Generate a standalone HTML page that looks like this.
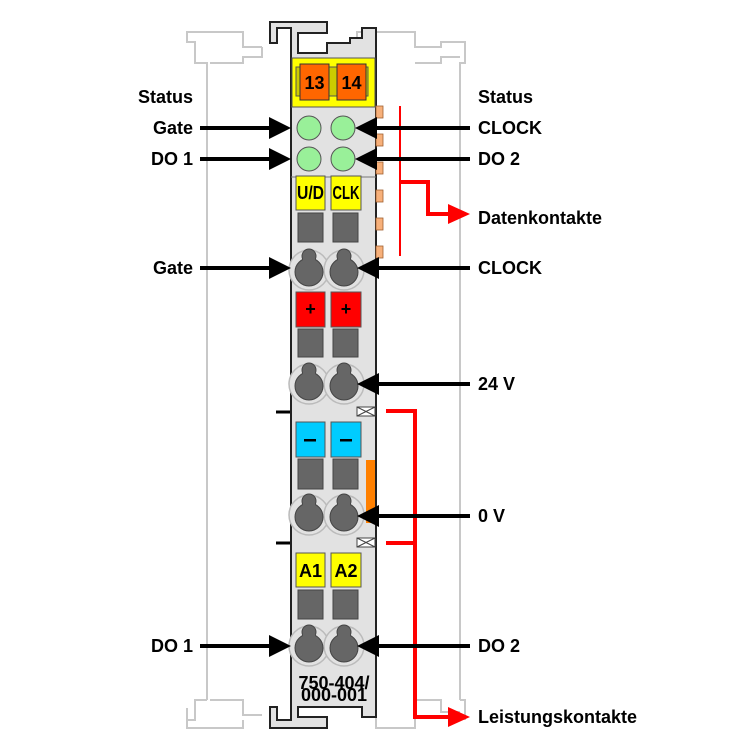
<!DOCTYPE html>
<html><head><meta charset="utf-8"><style>
html,body{margin:0;padding:0;background:#fff}
svg{display:block}
text{font-family:"Liberation Sans",sans-serif;font-weight:bold;font-size:18px;fill:#000}
</style></head><body>
<svg width="750" height="750" viewBox="0 0 750 750" xmlns="http://www.w3.org/2000/svg">
<!-- rails -->
<g fill="none" stroke="#c8c8c8" stroke-width="2">
<path d="M207,700 V63 H195 V42 H187 V32 H243 V47 H262"/>
<path d="M195,63 V42 M210,63 H243 V57 H262 V47"/>
<path d="M460,700 V63 H465 V42 H441 V47 H415 V32 H357 V42 H376"/>
<path d="M415,63 H441 V57 H460"/>
<path d="M207,700 H195 V720 H187 M210,700 H243 V715 H262"/>
<path d="M460,700 H465 V720 M415,700 H441 V712 H460 M376,712 V728 H415 V712"/>
<path d="M187,708 V728 H243 V720"/>
</g>
<!-- module body -->
<path d="M270,22 H327 V33 H298 V53 H327 V43 H350 V38 H362 V28 H376 V717 H362 V707 H298 V717 H327 V728 H270 V707 H277 V720 H291 V28 H277 V43 H270 Z" fill="#e2e2e2" stroke="#222" stroke-width="2"/>
<rect x="292" y="58" width="83" height="49" fill="#ffff00" stroke="#555" stroke-width="1"/>
<rect x="296" y="67" width="72" height="29" fill="#cccc00" stroke="#555" stroke-width="1"/>
<rect x="300" y="64" width="29" height="36" fill="#ff6600" stroke="#333"/>
<rect x="337" y="64" width="29" height="36" fill="#ff6600" stroke="#333"/>
<text x="314.5" y="89" text-anchor="middle" font-size="17">13</text>
<text x="351.5" y="89" text-anchor="middle" font-size="17">14</text>
<line x1="291" y1="107" x2="376" y2="107" stroke="#555"/>
<!-- orange tabs -->
<g fill="#f7b07a" stroke="#a06030" stroke-width="0.8">
<rect x="376" y="106" width="7" height="12"/><rect x="376" y="134" width="7" height="12"/>
<rect x="376" y="162" width="7" height="12"/><rect x="376" y="190" width="7" height="12"/>
<rect x="376" y="218" width="7" height="12"/><rect x="376" y="246" width="7" height="12"/>
</g>
<!-- LEDs -->
<g fill="#99f099" stroke="#555" stroke-width="1">
<circle cx="309" cy="128" r="12"/><circle cx="343" cy="128" r="12"/>
<circle cx="309" cy="159" r="12"/><circle cx="343" cy="159" r="12"/>
</g>
<line x1="291" y1="177" x2="376" y2="177" stroke="#777"/>
<rect x="296" y="176" width="29" height="34" fill="#ffff00" stroke="#555"/>
<rect x="331" y="176" width="30" height="34" fill="#ffff00" stroke="#555"/>
<text x="310.5" y="199" text-anchor="middle" font-size="15" textLength="27" lengthAdjust="spacingAndGlyphs">U/D</text>
<text x="346" y="199" text-anchor="middle" font-size="15" textLength="27" lengthAdjust="spacingAndGlyphs">CLK</text>
<g fill="#666" stroke="#444">
<rect x="298" y="213" width="25" height="29"/><rect x="333" y="213" width="25" height="29"/>
<rect x="298" y="329" width="25" height="28"/><rect x="333" y="329" width="25" height="28"/>
<rect x="298" y="459" width="25" height="30"/><rect x="333" y="459" width="25" height="30"/>
<rect x="298" y="590" width="25" height="29"/><rect x="333" y="590" width="25" height="29"/>
</g>
<!-- clamps -->
<g id="cl">
<circle cx="309" cy="270" r="20" fill="#e2e2e2" stroke="#bbb" stroke-width="1.5"/>
<circle cx="344" cy="270" r="20" fill="#e2e2e2" stroke="#bbb" stroke-width="1.5"/>
<g fill="#666" stroke="#444"><circle cx="309" cy="272" r="14"/><circle cx="309" cy="256" r="7"/><circle cx="344" cy="272" r="14"/><circle cx="344" cy="256" r="7"/></g>
<g fill="#666"><rect x="303" y="256" width="12" height="10"/><rect x="338" y="256" width="12" height="10"/></g>
</g>
<use href="#cl" y="114"/><use href="#cl" y="245"/><use href="#cl" y="376"/>
<rect x="296" y="292" width="29" height="35" fill="#ff0000" stroke="#555"/>
<rect x="331" y="292" width="30" height="35" fill="#ff0000" stroke="#555"/>
<text x="310.5" y="315" text-anchor="middle" font-size="15">+</text>
<text x="346" y="315" text-anchor="middle" font-size="15">+</text>
<rect x="296" y="422" width="29" height="35" fill="#00ccff" stroke="#555"/>
<rect x="331" y="422" width="30" height="35" fill="#00ccff" stroke="#555"/>
<rect x="304" y="439" width="12" height="2.5" fill="#000"/><rect x="340" y="439" width="12" height="2.5" fill="#000"/>
<rect x="296" y="553" width="29" height="34" fill="#ffff00" stroke="#555"/>
<rect x="331" y="553" width="30" height="34" fill="#ffff00" stroke="#555"/>
<text x="310.5" y="577" text-anchor="middle" font-size="16">A1</text>
<text x="346" y="577" text-anchor="middle" font-size="16">A2</text>
<rect x="366" y="460" width="9" height="63" fill="#ff8000"/>
<!-- notches -->
<g fill="#fff" stroke="#444" stroke-width="1">
<rect x="357" y="407" width="18" height="9"/><path d="M357,407 L375,416 M357,416 L375,407"/>
<rect x="357" y="538" width="18" height="9"/><path d="M357,538 L375,547 M357,547 L375,538"/>
</g>
<g stroke="#000" stroke-width="3"><line x1="276" y1="412" x2="290" y2="412"/><line x1="276" y1="543" x2="290" y2="543"/></g>
<text x="334" y="689" text-anchor="middle" font-size="12" font-weight="normal">750-404/</text>
<text x="334" y="701" text-anchor="middle" font-size="12" font-weight="normal">000-001</text>
<!-- red connectors -->
<g fill="none" stroke="#ff0000">
<path d="M400,106 V256" stroke-width="2"/>
<path d="M400,182 H428 V214 H450" stroke-width="4"/>
<path d="M386,411 H415 V717 H450 M386,543 H415" stroke-width="4"/>
</g>
<g fill="#ff0000"><path d="M448,204 L470,214 L448,224 Z"/><path d="M448,707 L470,717 L448,727 Z"/></g>
<!-- black arrows -->
<g stroke="#000" stroke-width="4">
<line x1="200" y1="128" x2="275" y2="128"/><line x1="200" y1="159" x2="275" y2="159"/>
<line x1="200" y1="268" x2="275" y2="268"/><line x1="200" y1="646" x2="275" y2="646"/>
<line x1="470" y1="128" x2="370" y2="128"/><line x1="470" y1="159" x2="370" y2="159"/>
<line x1="470" y1="268" x2="370" y2="268"/><line x1="470" y1="384" x2="370" y2="384"/>
<line x1="470" y1="516" x2="370" y2="516"/><line x1="470" y1="646" x2="370" y2="646"/>
</g>
<g fill="#000">
<path d="M269,117 L291,128 L269,139 Z"/><path d="M269,148 L291,159 L269,170 Z"/>
<path d="M269,257 L291,268 L269,279 Z"/><path d="M269,635 L291,646 L269,657 Z"/>
<path d="M377,117 L355,128 L377,139 Z"/><path d="M377,148 L355,159 L377,170 Z"/>
<path d="M379,257 L357,268 L379,279 Z"/><path d="M379,373 L357,384 L379,395 Z"/>
<path d="M379,505 L357,516 L379,527 Z"/><path d="M379,635 L357,646 L379,657 Z"/>
</g>
<!-- labels -->
<text x="193" y="103" text-anchor="end">Status</text>
<text x="193" y="134" text-anchor="end">Gate</text>
<text x="193" y="165" text-anchor="end">DO 1</text>
<text x="193" y="274" text-anchor="end">Gate</text>
<text x="193" y="652" text-anchor="end">DO 1</text>
<text x="478" y="103">Status</text>
<text x="478" y="134">CLOCK</text>
<text x="478" y="165">DO 2</text>
<text x="478" y="224">Datenkontakte</text>
<text x="478" y="274">CLOCK</text>
<text x="478" y="390">24 V</text>
<text x="478" y="522">0 V</text>
<text x="478" y="652">DO 2</text>
<text x="478" y="723">Leistungskontakte</text>
</svg>
</body></html>
